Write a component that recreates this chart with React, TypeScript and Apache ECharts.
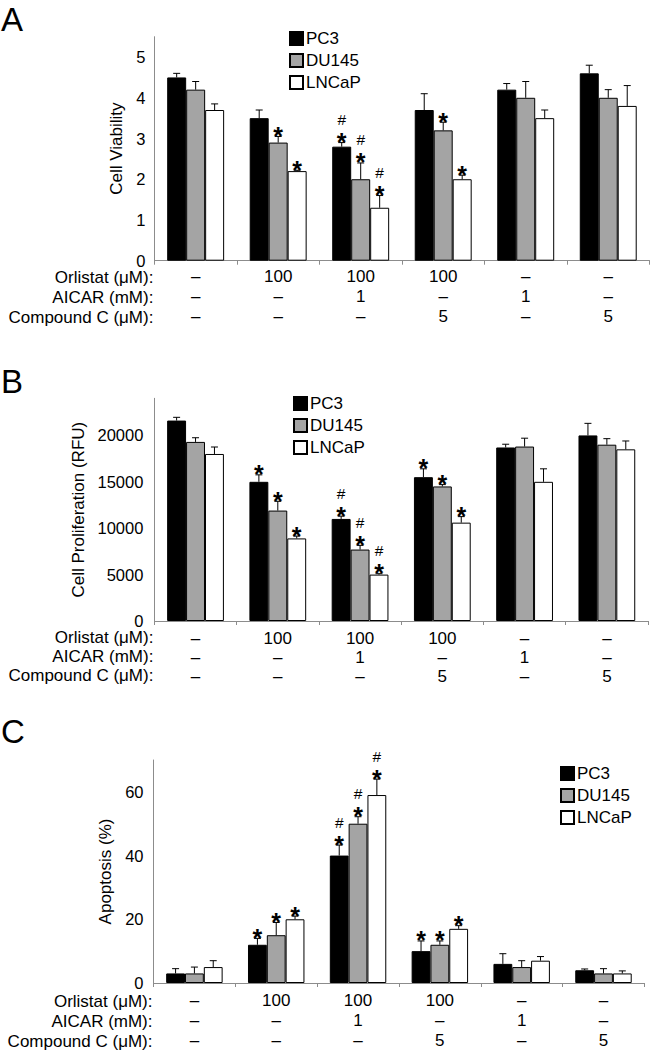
import React, { useEffect, useRef } from "react";
import * as echarts from "echarts";

// ---------- data ----------
const conditions = ["Control", "Orlistat", "Orlistat+AICAR", "Orlistat+CompoundC", "AICAR", "CompoundC"];
const orlistatRow = ["–", "100", "100", "100", "–", "–"];
const aicarRow = ["–", "–", "1", "–", "1", "–"];
const compoundCRow = ["–", "–", "–", "5", "–", "5"];
const rowLabels = ["Orlistat (μM):", "AICAR (mM):", "Compound C (μM):"];
const cellLines = ["PC3", "DU145", "LNCaP"];

// Panel A: cell viability
const viabilityPC3 = [4.5, 3.5, 2.8, 3.7, 4.2, 4.6];
const viabilityPC3Sd = [0.1, 0.2, 0.1, 0.4, 0.15, 0.2];
const viabilityDU145 = [4.2, 2.9, 2.0, 3.2, 4.0, 4.0];
const viabilityDU145Sd = [0.2, 0.15, 0.4, 0.2, 0.4, 0.2];
const viabilityLNCaP = [3.7, 2.2, 1.3, 2.0, 3.5, 3.8];
const viabilityLNCaPSd = [0.15, 0.02, 0.3, 0.1, 0.2, 0.5];
const viabilityMarksPC3 = ["", "", "*#", "", "", ""];
const viabilityMarksDU145 = ["", "*", "*#", "*", "", ""];
const viabilityMarksLNCaP = ["", "*", "*#", "*", "", ""];

// Panel B: cell proliferation (RFU)
const prolifPC3 = [21600, 15000, 11000, 15500, 18700, 20000];
const prolifPC3Sd = [350, 750, 300, 900, 350, 1300];
const prolifDU145 = [19300, 11900, 7700, 14500, 18800, 19000];
const prolifDU145Sd = [450, 1000, 450, 200, 900, 650];
const prolifLNCaP = [18000, 8900, 5000, 10600, 15000, 18500];
const prolifLNCaPSd = [750, 250, 100, 650, 1400, 900];
const prolifMarksPC3 = ["", "*", "*#", "*", "", ""];
const prolifMarksDU145 = ["", "*", "*#", "*", "", ""];
const prolifMarksLNCaP = ["", "*", "*#", "*", "", ""];

// Panel C: apoptosis (%)
const apopPC3 = [3, 12, 40, 10, 6, 4];
const apopPC3Sd = [1.5, 2, 3.3, 3.2, 3.2, 0.4];
const apopDU145 = [3, 15, 50, 12, 5, 3];
const apopDU145Sd = [2, 4, 2.2, 1.2, 2, 1.5];
const apopLNCaP = [5, 20, 59, 17, 7, 3];
const apopLNCaPSd = [2, 1, 5, 1, 1.3, 0.8];
const apopMarksPC3 = ["", "*", "*#", "*", "", ""];
const apopMarksDU145 = ["", "*", "*#", "*", "", ""];
const apopMarksLNCaP = ["", "*", "*#", "*", "", ""];

// ---------- styling / layout ----------
const FONT = "'Liberation Sans', Arial, Helvetica, sans-serif";
const GAP = 0.31;
const AXIS_GREY = "#8c8c8c";
const barColors = ["#000000", "#a4a4a4", "#ffffff"];

const panels = [
  {
    letter: "A", letterY: 3, top: 36.7, height: 224, left: 154.4, right: 1.5,
    max: 5.5, interval: 1, name: "Cell Viability", nameGap: 27, labelMargin: 9,
    legendLeft: 289, legendTop: 30, rowsY: [277.5, 297.5, 317.5], xMargin: 6,
    values: [viabilityPC3, viabilityDU145, viabilityLNCaP],
    sds: [viabilityPC3Sd, viabilityDU145Sd, viabilityLNCaPSd],
    marks: [viabilityMarksPC3, viabilityMarksDU145, viabilityMarksLNCaP],
  },
  {
    letter: "B", letterY: 365, top: 398.3, height: 222.7, left: 154.4, right: 3,
    max: 24000, interval: 5000, name: "Cell Proliferation (RFU)", nameGap: 67, labelMargin: 11,
    legendLeft: 293, legendTop: 395, rowsY: [637.5, 656.5, 675.5], xMargin: 7.5,
    values: [prolifPC3, prolifDU145, prolifLNCaP],
    sds: [prolifPC3Sd, prolifDU145Sd, prolifLNCaPSd],
    marks: [prolifMarksPC3, prolifMarksDU145, prolifMarksLNCaP],
  },
  {
    letter: "C", letterY: 715, top: 760, height: 224, left: 153.5, right: 6.6,
    max: 70, interval: 20, name: "Apoptosis (%)", nameGap: 38, labelMargin: 10,
    legendLeft: 560, legendTop: 765, rowsY: [1001, 1021, 1041], xMargin: 7,
    values: [apopPC3, apopDU145, apopLNCaP],
    sds: [apopPC3Sd, apopDU145Sd, apopLNCaPSd],
    marks: [apopMarksPC3, apopMarksDU145, apopMarksLNCaP],
  },
];

function buildOption() {
  const grid: any[] = [];
  const xAxis: any[] = [];
  const yAxis: any[] = [];
  const legend: any[] = [];
  const series: any[] = [];
  const graphic: any[] = [];

  panels.forEach((p, g) => {
    grid.push({ left: p.left, right: p.right, top: p.top, height: p.height, containLabel: false });
    xAxis.push({
      type: "category",
      gridIndex: g,
      data: conditions,
      axisLine: { lineStyle: { color: AXIS_GREY, width: 1 } },
      axisTick: { show: true, length: 4, interval: 0, lineStyle: { color: AXIS_GREY } },
      axisLabel: {
        interval: 0,
        margin: p.xMargin,
        fontFamily: FONT,
        fontSize: 17,
        color: "#000",
        lineHeight: g === 1 ? 19 : 20,
        formatter: (_v: string, i: number) => `${orlistatRow[i]}\n${aicarRow[i]}\n${compoundCRow[i]}`,
      },
    });
    yAxis.push({
      type: "value",
      gridIndex: g,
      min: 0,
      max: p.max,
      interval: p.interval,
      name: p.name,
      nameLocation: "middle",
      nameGap: p.nameGap,
      nameTextStyle: { fontFamily: FONT, fontSize: 17, color: "#000" },
      axisLine: { show: true, lineStyle: { color: AXIS_GREY, width: 1 } },
      axisTick: { show: false },
      splitLine: { show: false },
      axisLabel: {
        margin: p.labelMargin,
        fontFamily: FONT,
        fontSize: 16.5,
        color: "#000",
        formatter: (v: number) => (Math.abs(v % p.interval) < 1e-9 ? String(v) : ""),
      },
    });
    legend.push({
      data: cellLines,
      orient: "vertical",
      left: p.legendLeft,
      top: p.legendTop,
      icon: "rect",
      itemWidth: 13,
      itemHeight: 13,
      itemGap: 5,
      padding: 0,
      selectedMode: false,
      textStyle: { fontFamily: FONT, fontSize: 17, color: "#000", padding: [0, 0, 0, -2] },
    });

    cellLines.forEach((name, s) => {
      series.push({
        type: "bar",
        name,
        xAxisIndex: g,
        yAxisIndex: g,
        data: p.values[s],
        barGap: "0%",
        barCategoryGap: `${GAP * 100}%`,
        itemStyle: { color: barColors[s], borderColor: "#000", borderWidth: 1 },
        emphasis: { disabled: true },
      });
    });

    cellLines.forEach((name, s) => {
      const vals = p.values[s];
      const sd = p.sds[s];
      const marks = p.marks[s];
      series.push({
        type: "custom",
        name: `${name} error`,
        xAxisIndex: g,
        yAxisIndex: g,
        z: 5,
        data: vals.map((v, i) => [i, v, v + sd[i]]),
        renderItem: (_params: any, api: any) => {
          const i = api.value(0);
          const v = api.value(1);
          const t = api.value(2);
          const p0 = api.coord([i, v]);
          const p1 = api.coord([i, t]);
          const band = api.size([1, 0])[0];
          const bw = (band * (1 - GAP)) / 3;
          const x = p0[0] + (s - 1) * bw;
          const children: any[] = [
            { type: "line", shape: { x1: x, y1: p0[1], x2: x, y2: p1[1] }, style: { stroke: "#000", lineWidth: 1 } },
            { type: "line", shape: { x1: x - 3.5, y1: p1[1], x2: x + 3.5, y2: p1[1] }, style: { stroke: "#000", lineWidth: 1 } },
          ];
          const m = marks[i];
          if (m.indexOf("*") >= 0) {
            children.push({
              type: "text",
              x,
              y: p1[1] - 0.5,
              style: { text: "*", fontFamily: FONT, fontSize: 25, fontWeight: "bold", fill: "#000", align: "center", verticalAlign: "middle" },
            });
          }
          if (m.indexOf("#") >= 0) {
            children.push({
              type: "text",
              x,
              y: p1[1] - 23,
              style: { text: "#", fontFamily: FONT, fontSize: 15.5, fill: "#000", align: "center", verticalAlign: "middle" },
            });
          }
          return { type: "group", children };
        },
      });
    });

    graphic.push({
      type: "text",
      left: 1,
      top: p.letterY,
      style: { text: p.letter, fontFamily: FONT, fontSize: 33, fill: "#000" },
    });
    rowLabels.forEach((lbl, r) => {
      graphic.push({
        type: "text",
        x: p.left - 1,
        y: p.rowsY[r],
        style: { text: lbl, fontFamily: FONT, fontSize: 17, fill: "#000", align: "right", verticalAlign: "middle" },
      });
    });
  });

  return { animation: false, backgroundColor: "#fff", grid, xAxis, yAxis, legend, series, graphic };
}

export default function App() {
  const ref = useRef<HTMLDivElement>(null);
  useEffect(() => {
    if (!ref.current) return;
    const chart = echarts.init(ref.current, undefined, { renderer: "svg" });
    chart.setOption(buildOption() as any);
    return () => chart.dispose();
  }, []);
  return <div ref={ref} style={{ position: "absolute", left: 0, top: 0, width: 651, height: 1050, background: "#fff" }} />;
}
